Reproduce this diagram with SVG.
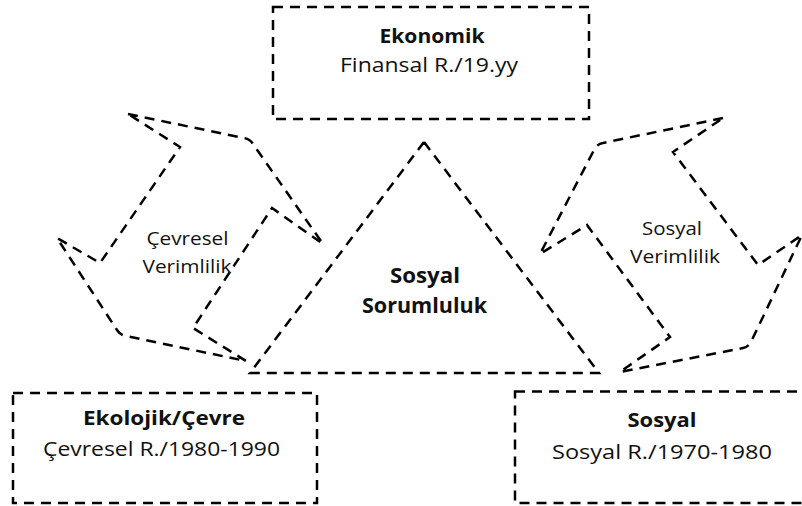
<svg xmlns="http://www.w3.org/2000/svg" width="802" height="506" viewBox="0 0 802 506">
<style>
.d{fill:none;stroke:#000;stroke-width:2.5;stroke-dasharray:10 7;stroke-linejoin:miter}
text{font-family:"Open Sans","Liberation Sans",sans-serif;fill:#111;text-anchor:middle}
.b{font-weight:bold;font-size:20px}
.r{font-size:20.5px}
.s{font-size:18.5px}
.t{font-weight:bold;font-size:22px}
</style>
<rect width="802" height="506" fill="#fff"/>
<g id="connectors">
<path class="d" d="M128,114 L244,138 Q250,139 253,144 L323,244 L272,208 L193,328 L246,361 L126,336 Q120,335 117,330 L57,238 L100,263 L180,147 Z"/>
<text class="s" x="187.5" y="245" textLength="82" lengthAdjust="spacingAndGlyphs">Çevresel</text>
<text class="s" x="187" y="273" textLength="89" lengthAdjust="spacingAndGlyphs">Verimlilik</text>
<path class="d" d="M723,118 L603,143 Q597,144 594,150 L540,254 L587,225 L670,337 L620,372 L743,348 Q748,347 751,342 L802,235 L758,265 L673,152 Z"/>
<text class="s" x="672" y="235" textLength="60" lengthAdjust="spacingAndGlyphs">Sosyal</text>
<text class="s" x="675" y="263" textLength="90" lengthAdjust="spacingAndGlyphs">Verimlilik</text>
</g>
<g id="sosyal-sorumluluk">
<path class="d" d="M424,142 L599,373 L250,373 Z"/>
<text class="t" x="425" y="283" textLength="70" lengthAdjust="spacingAndGlyphs">Sosyal</text>
<text class="t" x="424.5" y="313" textLength="125" lengthAdjust="spacingAndGlyphs">Sorumluluk</text>
</g>
<g id="ekonomik">
<rect class="d" x="273" y="7" width="316" height="112"/>
<text class="b" x="432" y="42.5" textLength="105" lengthAdjust="spacingAndGlyphs">Ekonomik</text>
<text class="r" x="429" y="72" textLength="178" lengthAdjust="spacingAndGlyphs">Finansal R./19.yy</text>
</g>
<g id="ekolojik">
<rect class="d" x="13" y="393" width="304" height="110"/>
<text class="b" x="164" y="425" textLength="162" lengthAdjust="spacingAndGlyphs">Ekolojik/Çevre</text>
<text class="r" x="161.5" y="456" textLength="237" lengthAdjust="spacingAndGlyphs">Çevresel R./1980-1990</text>
</g>
<g id="sosyal">
<rect class="d" x="515" y="391.5" width="300" height="111.5"/>
<text class="b" x="662" y="427" textLength="69" lengthAdjust="spacingAndGlyphs">Sosyal</text>
<text class="r" x="662" y="459" textLength="220" lengthAdjust="spacingAndGlyphs">Sosyal R./1970-1980</text>
</g>
</svg>
